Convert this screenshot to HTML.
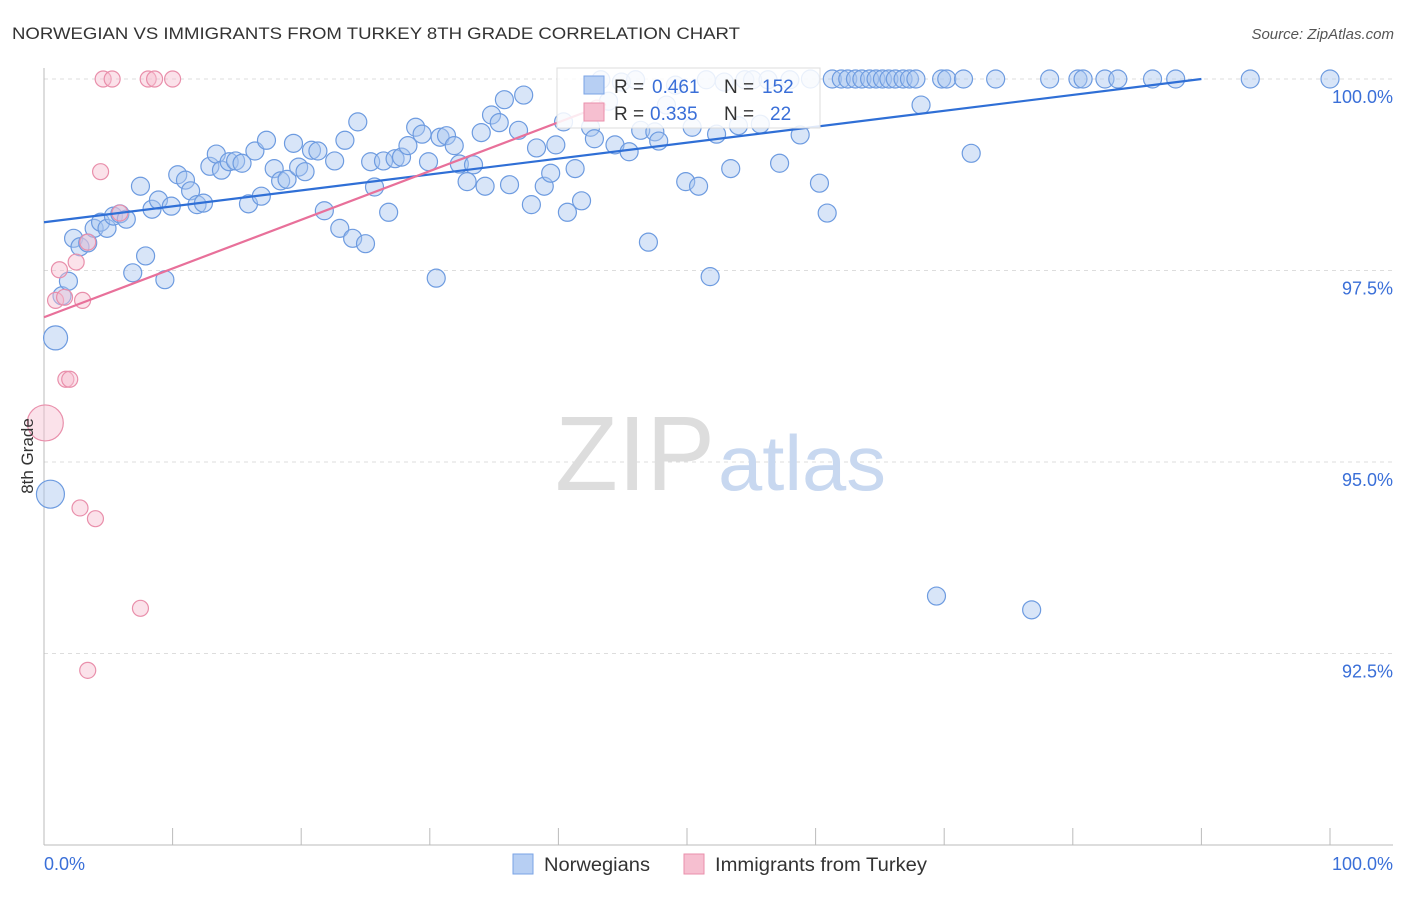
<!DOCTYPE html>
<html><head><meta charset="utf-8"><style>
body{margin:0;background:#fff;font-family:"Liberation Sans",sans-serif}
svg text{font-family:"Liberation Sans",sans-serif}
</style></head><body>
<svg id="chart" width="1406" height="892" xmlns="http://www.w3.org/2000/svg">
<text x="12" y="39" font-size="17" fill="#333" textLength="728" lengthAdjust="spacingAndGlyphs">NORWEGIAN VS IMMIGRANTS FROM TURKEY 8TH GRADE CORRELATION CHART</text>
<text x="1394" y="39" font-size="15" fill="#555" font-style="italic" text-anchor="end">Source: ZipAtlas.com</text>
<g id="grid"></g>
<g id="axes"></g>
<text x="555" y="490" font-size="106" fill="#ddd" textLength="160" lengthAdjust="spacingAndGlyphs" font-family="Liberation Serif">ZIP</text>
<text x="718" y="490" font-size="78" fill="#c8d8f0" textLength="168" lengthAdjust="spacingAndGlyphs">atlas</text>
<g id="pts"></g>
<g id="lines"></g>
<text transform="translate(33,456) rotate(-90)" font-size="17" fill="#333" text-anchor="middle">8th Grade</text>
<g>
<rect x="557" y="68" width="263" height="60" fill="#fff" fill-opacity="0.85" stroke="#ddd"/>
<rect x="584" y="76" width="20" height="18" fill="#b7cff3" stroke="#7aa3e6"/>
<rect x="584" y="103" width="20" height="18" fill="#f6bfd0" stroke="#ea8fab"/>
<text x="614" y="93" font-size="19" fill="#333">R =</text>
<text x="652" y="93" font-size="19" fill="#3a6fd8">0.461</text>
<text x="724" y="93" font-size="19" fill="#333">N =</text>
<text x="762" y="93" font-size="19" fill="#3a6fd8">152</text>
<text x="614" y="120" font-size="19" fill="#333">R =</text>
<text x="650" y="120" font-size="19" fill="#3a6fd8">0.335</text>
<text x="724" y="120" font-size="19" fill="#333">N =</text>
<text x="770" y="120" font-size="19" fill="#3a6fd8">22</text>
</g>
<g>
<rect x="513" y="854" width="20" height="20" fill="#b7cff3" stroke="#7aa3e6"/>
<text x="544" y="871" font-size="19" fill="#333" textLength="106" lengthAdjust="spacingAndGlyphs">Norwegians</text>
<rect x="684" y="854" width="20" height="20" fill="#f6bfd0" stroke="#ea8fab"/>
<text x="715" y="871" font-size="19" fill="#333" textLength="212" lengthAdjust="spacingAndGlyphs">Immigrants from Turkey</text>
</g>
</svg>
<script>
const yTicks=[100,97.5,95,92.5];
const yTickLabels=["100.0%","97.5%","95.0%","92.5%"];
const xTickLabels=["0.0%","100.0%"];
const blueX=[0.5,0.9,1.4,1.9,2.3,2.8,3.4,3.9,4.4,4.9,5.4,5.9,6.4,6.9,7.5,7.9,8.4,8.9,9.4,9.9,10.4,11.0,11.4,11.9,12.4,12.9,13.4,13.8,14.4,14.9,15.4,15.9,16.4,16.9,17.3,17.9,18.4,18.9,19.4,19.8,20.3,20.8,21.3,21.8,22.6,23.0,23.4,24.0,24.4,25.0,25.4,25.7,26.4,26.8,27.3,27.8,28.3,28.9,29.4,29.9,30.5,30.8,31.3,31.9,32.3,32.9,33.4,34.0,34.3,34.8,35.4,35.8,36.2,36.9,37.3,37.9,38.3,38.9,39.4,39.8,40.4,40.7,41.3,41.8,42.5,42.8,43.3,43.9,44.4,44.9,45.5,46.0,46.4,47.0,47.5,47.8,48.4,49.1,49.9,50.4,50.9,51.5,51.8,52.3,52.9,53.4,54.0,54.5,55.1,55.7,56.3,57.2,58.0,58.8,59.6,60.3,60.9,61.3,62.0,62.5,63.1,63.6,64.2,64.7,65.2,65.7,66.2,66.8,67.3,67.8,68.2,69.4,69.8,70.2,71.5,72.1,74.0,76.8,78.2,80.4,80.8,82.5,83.5,86.2,88.0,93.8,100];
const blueY=[94.58,96.62,97.17,97.36,97.92,97.81,97.86,98.05,98.13,98.05,98.21,98.24,98.17,97.47,98.60,97.69,98.30,98.42,97.38,98.34,98.75,98.68,98.54,98.36,98.38,98.86,99.02,98.81,98.92,98.93,98.90,98.37,99.06,98.47,99.20,98.83,98.67,98.69,99.16,98.85,98.79,99.07,99.06,98.28,98.93,98.05,99.20,97.92,99.44,97.85,98.92,98.59,98.93,98.26,98.96,98.98,99.13,99.37,99.28,98.92,97.40,99.24,99.26,99.13,98.89,98.66,98.88,99.30,98.60,99.53,99.43,99.73,98.62,99.33,99.79,98.36,99.10,98.60,98.77,99.14,99.44,98.26,98.83,98.41,99.37,99.22,99.99,99.71,99.14,99.96,99.05,99.99,99.33,97.87,99.31,99.19,99.66,99.92,98.66,99.37,98.60,99.99,97.42,99.28,99.96,98.83,99.39,99.99,99.99,99.41,99.99,98.90,99.99,99.27,100,98.64,98.25,100,100,100,100,100,100,100,100,100,100,100,100,100,99.66,93.25,100,100,100,99.03,100,93.07,100,100,100,100,100,100,100,100,100];
const blueR=[14,12];
const pinkX=[0.1,0.9,1.2,1.6,1.7,2.0,2.5,2.8,3.0,3.4,3.4,4.0,4.4,4.6,5.3,5.9,7.5,8.1,8.6,10.0,43.0];
const pinkY=[95.51,97.11,97.51,97.15,96.08,96.08,97.61,94.40,97.11,97.87,92.28,94.26,98.79,100,100,98.25,93.09,100,100,100,99.62];
const pinkR=[18];
const blueLine=[[0,98.13],[90,100]];
const pinkLine=[[0,96.89],[43.7,99.67]];
const X0=44,X1=1330,Y0=79,PPU=76.6;
const sx=v=>X0+(X1-X0)*v/100;
const sy=v=>Y0+(100-v)*PPU;
const NS="http://www.w3.org/2000/svg";
function mk(t,a,p){const e=document.createElementNS(NS,t);for(const k in a)e.setAttribute(k,a[k]);p.appendChild(e);return e;}
const grid=document.getElementById('grid'),axes=document.getElementById('axes');
yTicks.forEach((t,i)=>{
 const l=mk('line',{x1:44,x2:1393,y1:sy(t),y2:sy(t),stroke:'#ddd','stroke-dasharray':'4,4'},grid);
 
 
 const tx=mk('text',{x:1393,y:sy(t)+24,'font-size':18,fill:'#3a6fd8','text-anchor':'end'},axes);
 tx.textContent=yTickLabels[i];
 
 
});
mk('line',{x1:44,x2:44,y1:68,y2:845,stroke:'#bbb'},axes);
mk('line',{x1:44,x2:1393,y1:845,y2:845,stroke:'#bbb'},axes);
for(let i=0;i<=10;i++){mk('line',{x1:sx(i*10),x2:sx(i*10),y1:828,y2:845,stroke:'#bbb'},axes);}
const xl0=mk('text',{x:44,y:870,'font-size':18,fill:'#3a6fd8'},axes);xl0.textContent=xTickLabels[0];


const xl1=mk('text',{x:1393,y:870,'font-size':18,fill:'#3a6fd8','text-anchor':'end'},axes);xl1.textContent=xTickLabels[1];


const pts=document.getElementById('pts');
blueX.forEach((x,i)=>{
 const c=mk('circle',{cx:sx(x),cy:sy(blueY[i]),r:blueR[i]||9,fill:'#a9c6ef','fill-opacity':0.45,stroke:'#6d9be0','stroke-width':1.2},pts);
 
 
});
pinkX.forEach((x,i)=>{
 const c=mk('circle',{cx:sx(x),cy:sy(pinkY[i]),r:pinkR[i]||8,fill:'#f6bfd0','fill-opacity':0.45,stroke:'#e98fab','stroke-width':1.2},pts);
 
 
});
const lines=document.getElementById('lines');
const bl=mk('line',{x1:sx(blueLine[0][0]),y1:sy(blueLine[0][1]),x2:sx(blueLine[1][0]),y2:sy(blueLine[1][1]),stroke:'#2f6fd6','stroke-width':2.2},lines);


const pl=mk('line',{x1:sx(pinkLine[0][0]),y1:sy(pinkLine[0][1]),x2:sx(pinkLine[1][0]),y2:sy(pinkLine[1][1]),stroke:'#e8709a','stroke-width':2.2},lines);


</script>
</body></html>
